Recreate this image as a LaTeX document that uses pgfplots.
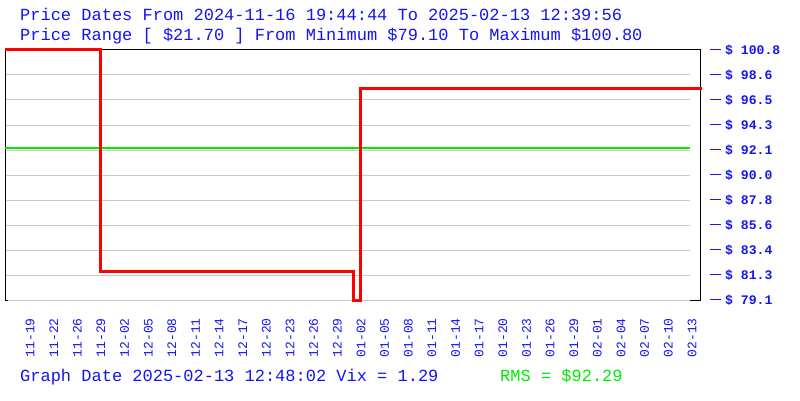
\documentclass[border=0pt]{standalone}
\usepackage{fontspec}
\setmainfont{Liberation Mono}
\usepackage{pgfplots}
\pgfplotsset{compat=1.18}
\definecolor{tblue}{RGB}{20,20,240}
\definecolor{tgreen}{RGB}{0,235,0}
\definecolor{tred}{RGB}{255,0,0}
\definecolor{gridgray}{RGB}{200,200,200}
\newcommand{\yl}[1]{\rule[3.8bp]{10.5bp}{1.3bp}\hspace{4.5bp}\$ #1}
\begin{document}
\begin{tikzpicture}[x=1bp,y=1bp]
\useasboundingbox (0,0) rectangle (800,400);
\node[anchor=base west, inner sep=0, text=tblue, font=\fontsize{17bp}{20bp}\selectfont] at (20,380) {Price Dates From 2024-11-16 19:44:44 To 2025-02-13 12:39:56};
\node[anchor=base west, inner sep=0, text=tblue, font=\fontsize{17bp}{20bp}\selectfont] at (20,360) {Price Range [ \$21.70 ] From Minimum \$79.10 To Maximum \$100.80};
\node[anchor=base west, inner sep=0, text=tblue, font=\fontsize{17bp}{20bp}\selectfont] at (20,19) {Graph Date 2025-02-13 12:48:02 Vix = 1.29};
\node[anchor=base west, inner sep=0, text=tgreen, font=\fontsize{17bp}{20bp}\selectfont] at (500,19) {RMS = \$92.29};
\begin{axis}[
  at={(5bp,100bp)}, anchor=south west, scale only axis,
  width=695bp, height=250bp,
  xmin=-1.058, xmax=28.34, ymin=79.1, ymax=100.8,
  clip=false,
  axis line style={draw=none},
  major tick length=0pt,
  xtick={0,1,...,28},
  xticklabels={11-19,11-22,11-26,11-29,12-02,12-05,12-08,12-11,12-14,12-17,12-20,12-23,12-26,12-29,01-02,01-05,01-08,01-11,01-14,01-17,01-20,01-23,01-26,01-29,02-01,02-04,02-07,02-10,02-13},
  xticklabel style={yshift=-18bp, rotate=90, anchor=east, inner sep=0pt, text=tblue, font=\fontsize{13bp}{15bp}\selectfont},
  ytick={79.1,81.27,83.44,85.61,87.78,89.95,92.12,94.29,96.46,98.63,100.8},
  yticklabels={\yl{79.1},\yl{81.3},\yl{83.4},\yl{85.6},\yl{87.8},\yl{90.0},\yl{92.1},\yl{94.3},\yl{96.5},\yl{98.6},\yl{100.8}},
  yticklabel pos=right,
  yticklabel style={anchor=west, xshift=10bp, inner sep=0pt, text=tblue, font=\fontsize{13.1bp}{15bp}\selectfont\bfseries},
]
\pgfplotsinvokeforeach{79.1,81.27,83.44,85.61,87.78,89.95,92.12,94.29,96.46,98.63}{
  \draw[gridgray, line width=1bp] (axis cs:-1.058,#1) -- (axis cs:27.92,#1);
}
\draw[black, line width=1bp] (axis cs:27.92,79.1) -- (rel axis cs:1,0) -- (rel axis cs:1,1) -- (rel axis cs:0,1) -- (rel axis cs:0,0) -- (axis cs:-0.93,79.1);
\addplot[tgreen, line width=1.3bp, no marks] coordinates {(-1.058,92.29) (27.92,92.29)};
\addplot[tred, line width=3bp, no marks, line join=miter] coordinates {
  (-1.058,100.8) (2.99,100.8) (2.99,81.56) (13.68,81.56) (13.68,79.1) (13.96,79.1) (13.96,97.44) (28.42,97.44)
};
\end{axis}
\end{tikzpicture}
\end{document}
